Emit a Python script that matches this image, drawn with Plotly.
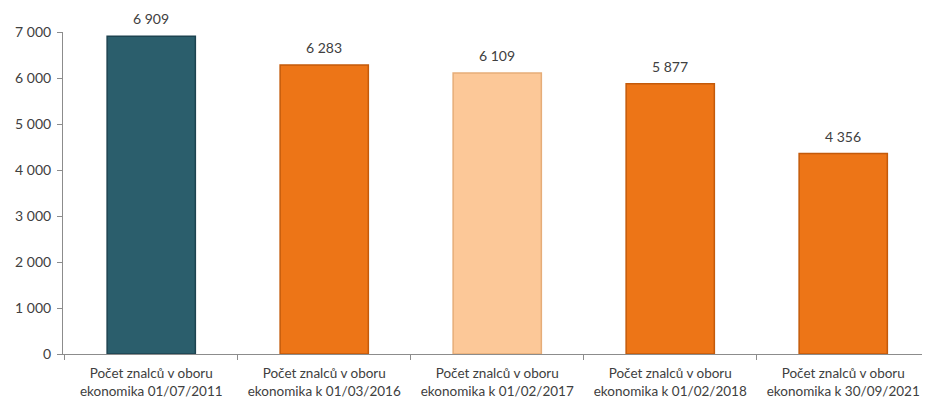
import plotly.graph_objects as go

categories = [
    "Počet znalců v oboru<br>ekonomika 01/07/2011",
    "Počet znalců v oboru<br>ekonomika k 01/03/2016",
    "Počet znalců v oboru<br>ekonomika k 01/02/2017",
    "Počet znalců v oboru<br>ekonomika k 01/02/2018",
    "Počet znalců v oboru<br>ekonomika k 30/09/2021",
]
values = [6909, 6283, 6109, 5877, 4356]
colors = ["#2b5e6c", "#ed7517", "#fcc898", "#ed7517", "#ed7517"]
line_colors = ["#1d4350", "#c45a0a", "#e6ad78", "#c45a0a", "#c45a0a"]
y_ticks = [0, 1000, 2000, 3000, 4000, 5000, 6000, 7000]

FONT = "Lato, Open Sans, sans-serif"

fig = go.Figure(go.Bar(
    x=categories,
    y=values,
    marker=dict(color=colors, line=dict(color=line_colors, width=1.5)),
    width=0.51,
))

for c, v in zip(categories, values):
    fig.add_annotation(
        x=c, y=v, text=f"{v:,}".replace(",", " "),
        showarrow=False, yanchor="bottom", yshift=7,
        font=dict(family=FONT, size=14, color="#404040"),
    )

fig.update_layout(
    width=922, height=394,
    margin=dict(l=55, r=2, t=24, b=48),
    plot_bgcolor="white", paper_bgcolor="white",
    separators=", ",
    showlegend=False,
    font=dict(family=FONT, size=14, color="#404040"),
)
fig.update_yaxes(
    range=[0, 7000], tickvals=y_ticks, tickformat=",.0f",
    showgrid=False, showline=True, linecolor="#8c8c8c", linewidth=1,
    ticks="outside", ticklen=5, tickcolor="#8c8c8c", zeroline=False,
    tickfont=dict(size=14, color="#404040"), automargin=False,
    ticklabelstandoff=3,
)
fig.update_xaxes(
    range=[-0.51, 4.49],
    showgrid=False, showline=True, linecolor="#8c8c8c", linewidth=1,
    ticks="outside", ticklen=5, tickcolor="#8c8c8c", tickson="boundaries",
    tickfont=dict(size=13.5, color="#404040"), automargin=False,
    ticklabelstandoff=7,
)

fig.write_html("out.html")
